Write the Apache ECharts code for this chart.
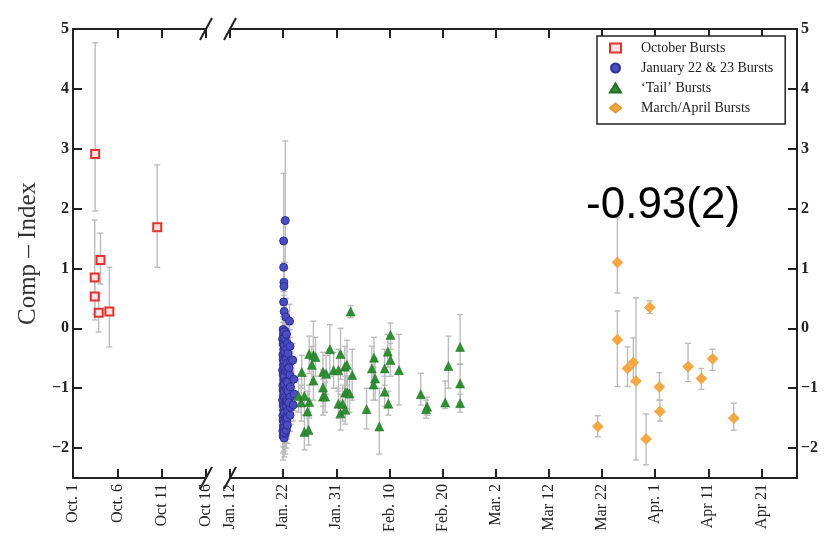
<!DOCTYPE html>
<html><head><meta charset="utf-8">
<script src="https://cdn.jsdelivr.net/npm/echarts@6/dist/echarts.min.js"></script>
<style>html,body{margin:0;padding:0;background:#fff}#c{width:835px;height:546px}</style>
</head><body><div id="c"></div>
<script>
// ---- tick positions / labels ----
// October panel: days after Oct 1 ; Jan–Apr panel: days after Jan 12
const octTickDays = [0, 5, 10, 15];
const octTickLabels = ['Oct. 1', 'Oct. 6', 'Oct 11', 'Oct 16'];
const janTickDays = [0, 10, 20, 30, 40, 50, 60, 70, 80, 90, 100];
const janTickLabels = ['Jan. 12', 'Jan. 22', 'Jan. 31', 'Feb. 10', 'Feb. 20', 'Mar. 2', 'Mar 12', 'Mar 22', 'Apr. 1', 'Apr 11', 'Apr 21'];
const yTicks = [-2, -1, 0, 1, 2, 3, 4, 5];

// ---- data rows: [day, index, errLow, errHigh] ----
const octoberBursts = [
  [2.5, 2.91, 1.96, 4.77],
  [9.5, 1.69, 1.02, 2.73],
  [3.1, 1.14, 0.74, 1.59],
  [2.45, 0.85, 0.14, 1.81],
  [2.45, 0.53, 0.24, 0.82],
  [2.9, 0.26, -0.06, 0.58],
  [4.1, 0.28, -0.31, 1.02]
];

const janBursts = [
  [10.4, 1.80, 1.10, 3.13], [10.1, 1.46, 0.80, 2.59], [10.1, 1.02, 0.62, 1.45],
  [10.15, 0.77, 0.42, 1.10], [10.15, 0.70, 0.35, 1.05], [10.1, 0.44, 0.15, 0.75],
  [10.2, 0.28, 0.00, 0.55], [10.5, 0.19, -0.10, 0.50], [11.2, 0.12, -0.15, 0.40],
  [10.0, -0.02, -0.30, 0.25], [10.05, -0.10, -0.40, 0.20], [9.9, -0.18, -0.45, 0.10],
  [10.0, -0.26, -0.55, 0.02], [10.1, -0.35, -0.62, -0.05], [9.95, -0.44, -0.75, -0.15],
  [10.0, -0.52, -0.80, -0.22], [10.05, -0.61, -0.92, -0.30], [9.9, -0.70, -1.00, -0.40],
  [10.0, -0.78, -1.08, -0.48], [10.1, -0.86, -1.15, -0.55], [9.95, -0.95, -1.25, -0.62],
  [10.0, -1.03, -1.35, -0.72], [10.05, -1.12, -1.42, -0.80], [9.9, -1.20, -1.50, -0.90],
  [10.0, -1.29, -1.60, -0.98], [10.1, -1.37, -1.70, -1.05], [9.95, -1.46, -1.78, -1.15],
  [10.0, -1.54, -1.88, -1.22], [10.05, -1.63, -1.98, -1.30], [9.95, -1.71, -2.08, -1.38],
  [10.0, -1.80, -2.20, -1.45], [10.2, -1.83, -2.15, -1.50],
  [10.4, -0.05, -0.30, 0.20], [10.45, -0.14, -0.40, 0.12], [10.35, -0.22, -0.48, 0.05],
  [10.4, -0.31, -0.60, -0.02], [10.5, -0.40, -0.70, -0.10], [10.4, -0.48, -0.78, -0.18],
  [10.35, -0.57, -0.85, -0.28], [10.45, -0.66, -0.95, -0.36], [10.4, -0.74, -1.05, -0.44],
  [10.5, -0.83, -1.12, -0.52], [10.4, -0.91, -1.20, -0.62], [10.35, -1.00, -1.30, -0.70],
  [10.45, -1.08, -1.38, -0.78], [10.4, -1.17, -1.48, -0.86], [10.5, -1.25, -1.55, -0.95],
  [10.4, -1.34, -1.62, -1.05], [10.35, -1.42, -1.72, -1.12], [10.45, -1.51, -1.82, -1.20],
  [10.4, -1.59, -1.90, -1.28], [10.3, -1.68, -2.00, -1.35], [10.4, -1.76, -2.10, -1.42],
  [10.2, -0.06, -0.35, 0.22], [10.25, -0.16, -0.42, 0.10], [10.2, -0.29, -0.58, 0.00],
  [10.25, -0.39, -0.66, -0.10], [10.2, -0.55, -0.84, -0.26], [10.25, -0.65, -0.95, -0.35],
  [10.2, -0.81, -1.10, -0.52], [10.25, -0.93, -1.22, -0.63], [10.2, -1.06, -1.36, -0.76],
  [10.25, -1.16, -1.45, -0.86], [10.2, -1.32, -1.62, -1.02], [10.25, -1.41, -1.70, -1.10],
  [10.2, -1.57, -1.88, -1.26], [10.25, -1.66, -1.98, -1.35], [10.2, -1.74, -2.05, -1.45],
  [10.6, -0.10, -0.38, 0.18], [10.65, -0.34, -0.62, -0.06], [10.6, -0.51, -0.80, -0.22],
  [10.65, -0.69, -0.98, -0.40], [10.6, -0.88, -1.16, -0.58], [10.65, -1.02, -1.30, -0.74],
  [10.6, -1.19, -1.48, -0.90], [10.65, -1.30, -1.60, -1.00], [10.6, -1.47, -1.75, -1.18],
  [10.65, -1.56, -1.85, -1.28], [10.6, -1.70, -2.00, -1.40],
  [10.8, -0.25, -0.52, 0.02], [10.9, -0.42, -0.70, -0.15], [10.75, -0.58, -0.85, -0.30],
  [10.85, -0.73, -1.02, -0.45], [10.8, -0.90, -1.18, -0.60], [10.9, -1.05, -1.35, -0.75],
  [10.8, -1.22, -1.50, -0.92], [10.85, -1.38, -1.68, -1.08], [10.75, -1.50, -1.80, -1.20],
  [10.8, -1.62, -1.92, -1.32],
  [11.3, -0.30, -0.58, -0.02], [11.4, -0.55, -0.85, -0.25], [11.25, -0.78, -1.05, -0.50],
  [11.35, -0.98, -1.28, -0.68], [11.3, -1.15, -1.45, -0.85], [11.4, -1.32, -1.60, -1.02],
  [11.3, -1.45, -1.72, -1.15], [11.1, -0.66, -0.95, -0.38], [11.05, -1.24, -1.52, -0.95],
  [11.8, -0.53, -0.80, -0.25], [12.0, -0.85, -1.12, -0.58], [12.1, -1.10, -1.38, -0.82],
  [11.9, -1.28, -1.55, -1.00]
];

const tailBursts = [
  [22.7, 0.28, 0.18, 0.38], [13.5, -0.73, -1.00, -0.45], [14.9, -0.43, -0.75, -0.13],
  [15.7, -0.45, -0.90, 0.12], [16.1, -0.48, -0.80, -0.15], [15.4, -0.61, -0.95, -0.30],
  [15.7, -0.87, -1.20, -0.55], [12.9, -1.13, -1.40, -0.85], [14.0, -1.13, -1.45, -0.80],
  [13.4, -1.24, -1.55, -0.95], [14.6, -1.39, -1.70, -1.05], [14.0, -1.73, -2.03, -1.45],
  [14.8, -1.70, -1.95, -1.40], [14.9, -1.23, -1.50, -0.95], [17.5, -0.73, -1.05, -0.40],
  [18.1, -0.76, -1.10, -0.45], [17.5, -0.99, -1.30, -0.70], [17.5, -1.14, -1.45, -0.85],
  [17.9, -1.14, -1.40, -0.90], [18.8, -0.35, -0.80, 0.06], [19.5, -0.70, -1.00, -0.40],
  [20.4, -0.70, -1.05, -0.35], [20.8, -0.43, -0.85, 0.00], [21.6, -0.64, -1.00, -0.30],
  [22.0, -0.61, -0.95, -0.20], [23.0, -0.78, -1.20, -0.35], [20.4, -1.26, -1.50, -1.00],
  [21.2, -1.26, -1.55, -0.95], [21.7, -1.07, -1.35, -0.80], [22.1, -1.07, -1.35, -0.80],
  [20.8, -1.42, -1.70, -1.10], [21.7, -1.36, -1.60, -1.10], [22.5, -1.09, -1.40, -0.80],
  [25.7, -1.35, -1.68, -1.00], [26.7, -0.67, -1.00, -0.30], [27.1, -0.49, -0.80, -0.15],
  [27.3, -0.84, -1.20, -0.50], [27.0, -0.94, -1.20, -0.65], [29.1, -0.67, -0.95, -0.35],
  [29.1, -1.06, -1.30, -0.80], [29.7, -0.39, -0.65, -0.10], [30.2, -0.11, -0.35, 0.09],
  [30.2, -0.53, -0.80, -0.25], [29.8, -1.26, -1.45, -1.05], [28.1, -1.64, -2.10, -1.00],
  [31.8, -0.70, -1.28, -0.10], [35.9, -1.10, -1.28, -0.75], [37.1, -1.31, -1.45, -1.15],
  [36.9, -1.35, -1.50, -1.20], [40.5, -1.24, -1.34, -0.88], [41.1, -0.63, -1.00, -0.13],
  [43.3, -0.31, -0.60, 0.23], [43.3, -0.92, -1.25, -0.60], [43.3, -1.25, -1.40, -1.10]
];

const marAprBursts = [
  [69.2, -1.64, -1.81, -1.46], [72.9, 1.10, 0.59, 1.85], [72.9, -0.19, -0.97, 0.29],
  [74.8, -0.67, -0.97, -0.31], [75.9, -0.57, -0.90, -0.16], [76.4, -0.88, -2.20, 0.51],
  [78.3, -1.85, -2.28, -1.43], [79.0, 0.35, 0.25, 0.46], [80.8, -0.98, -1.20, -0.74],
  [80.9, -1.39, -1.55, -1.20], [86.2, -0.64, -0.89, -0.25], [88.7, -0.84, -1.02, -0.67],
  [90.8, -0.51, -0.70, -0.35], [94.8, -1.50, -1.70, -1.25]
];

const seriesNames = ['October Bursts', 'January 22 & 23 Bursts', '\u2018Tail\u2019 Bursts', 'March/April Bursts'];
const annotationText = '-0.93(2)';

// ---- chart ----
const serif = 'Liberation Serif';
const axisColor = '#222';
const tickTextColor = '#222';
const chart = echarts.init(document.getElementById('c'), null, {renderer: 'canvas'});

function labelFrom(ticks, labels) {
  return v => { const i = ticks.findIndex(t => Math.abs(t - v) < 1e-6); return i >= 0 ? labels[i] : ''; };
}
const yFmt = v => (v < 0 ? '\u2212' + Math.abs(v) : String(v));

function xAxisCfg(grid, pos, min, max, ticks, labels, showLabels) {
  return {
    type: 'value', gridIndex: grid, position: pos, min: min, max: max,
    axisLine: {show: true, onZero: false, lineStyle: {color: axisColor, width: 2}},
    axisTick: {show: true, inside: true, length: 9, customValues: ticks, lineStyle: {color: axisColor, width: 2}},
    axisLabel: {show: showLabels, customValues: ticks, formatter: labelFrom(ticks, labels), rotate: 90, margin: 6,
      fontFamily: serif, fontSize: 16, color: tickTextColor},
    splitLine: {show: false}
  };
}
function yAxisCfg(grid, pos) {
  return {
    type: 'value', gridIndex: grid, position: pos, min: -2.5, max: 5,
    axisLine: {show: true, onZero: false, lineStyle: {color: axisColor, width: 2}},
    axisTick: {show: true, inside: true, length: 9, customValues: yTicks, lineStyle: {color: axisColor, width: 2}},
    axisLabel: {customValues: yTicks, formatter: yFmt, margin: 4, fontFamily: serif, fontSize: 16,
      fontWeight: 'bold', color: tickTextColor},
    splitLine: {show: false}
  };
}

const errColor = '#bcbcbc';
function errRender(params, api) {
  const x = api.value(0), lo = api.value(2), hi = api.value(3);
  const a = api.coord([x, lo]), b = api.coord([x, hi]);
  const w = 3, st = {stroke: errColor, lineWidth: 1.4};
  return {type: 'group', children: [
    {type: 'line', shape: {x1: a[0], y1: a[1], x2: b[0], y2: b[1]}, style: st},
    {type: 'line', shape: {x1: a[0] - w, y1: a[1], x2: a[0] + w, y2: a[1]}, style: st},
    {type: 'line', shape: {x1: b[0] - w, y1: b[1], x2: b[0] + w, y2: b[1]}, style: st}
  ]};
}
function errSeries(data, xi, yi) {
  return {type: 'custom', xAxisIndex: xi, yAxisIndex: yi, data: data, renderItem: errRender,
    encode: {x: 0, y: [2, 3]}, z: 1, silent: true, clip: true};
}

const yAxisName = {name: 'Comp \u2013 Index', nameLocation: 'middle', nameGap: 32, nameRotate: 90,
  nameTextStyle: {fontFamily: serif, fontSize: 25, color: '#333'}};

chart.setOption({
  animation: false,
  backgroundColor: '#fff',
  grid: [
    {left: 73, top: 29, width: 133, height: 449},
    {left: 230, top: 29, width: 567, height: 449}
  ],
  xAxis: [
    xAxisCfg(0, 'bottom', 0, 15, octTickDays, octTickLabels, true),
    xAxisCfg(0, 'top', 0, 15, octTickDays, octTickLabels, false),
    xAxisCfg(1, 'bottom', 0, 106.7, janTickDays, janTickLabels, true),
    xAxisCfg(1, 'top', 0, 106.7, janTickDays, janTickLabels, false)
  ],
  yAxis: [
    Object.assign(yAxisCfg(0, 'left'), yAxisName),
    yAxisCfg(1, 'right')
  ],
  legend: {
    orient: 'vertical', left: 597, top: 36, padding: [5, 12, 9, 12], itemGap: 6,
    itemWidth: 11, itemHeight: 9, borderColor: '#222', borderWidth: 1.5, backgroundColor: '#fff',
    textStyle: {fontFamily: serif, fontSize: 14, color: '#222', padding: [0, 0, 0, 15]},
    data: seriesNames
  },
  series: [
    errSeries(octoberBursts, 0, 0),
    errSeries(janBursts, 2, 1),
    errSeries(tailBursts, 2, 1),
    errSeries(marAprBursts, 2, 1),
    {name: seriesNames[0], type: 'scatter', xAxisIndex: 0, yAxisIndex: 0, data: octoberBursts, encode: {x: 0, y: 1},
      symbol: 'rect', symbolSize: 8, z: 3,
      itemStyle: {color: '#fbe3e3', borderColor: '#e2312f', borderWidth: 2, opacity: 1}},
    {name: seriesNames[1], type: 'scatter', xAxisIndex: 2, yAxisIndex: 1, data: janBursts, encode: {x: 0, y: 1},
      symbol: 'circle', symbolSize: 8, z: 3,
      itemStyle: {color: '#4a4cc0', borderColor: '#2d2f95', borderWidth: 1, opacity: 1}},
    {name: seriesNames[2], type: 'scatter', xAxisIndex: 2, yAxisIndex: 1, data: tailBursts, encode: {x: 0, y: 1},
      symbol: 'triangle', symbolSize: 9, z: 3,
      itemStyle: {color: '#2e8f32', borderColor: '#1f6f22', borderWidth: 0.5, opacity: 1}},
    {name: seriesNames[3], type: 'scatter', xAxisIndex: 2, yAxisIndex: 1, data: marAprBursts, encode: {x: 0, y: 1},
      symbol: 'diamond', symbolSize: 11, z: 3,
      itemStyle: {color: '#f3a844', borderColor: '#e8952c', borderWidth: 0.5, opacity: 1}}
  ]
});

// axis-break slashes and annotation, placed through the axes' own scales
const pTopL = chart.convertToPixel({xAxisIndex: 0, yAxisIndex: 0}, [15, 5]);
const pBotL = chart.convertToPixel({xAxisIndex: 0, yAxisIndex: 0}, [15, -2.5]);
const pTopR = chart.convertToPixel({xAxisIndex: 2, yAxisIndex: 1}, [0, 5]);
const pBotR = chart.convertToPixel({xAxisIndex: 2, yAxisIndex: 1}, [0, -2.5]);
function slash(p) {
  return {type: 'line', shape: {x1: p[0] - 6, y1: p[1] + 11, x2: p[0] + 6, y2: p[1] - 11},
    style: {stroke: axisColor, lineWidth: 2}, z: 10};
}
const pAnn = chart.convertToPixel({xAxisIndex: 2, yAxisIndex: 1}, [67.0, 2.05]);
chart.setOption({
  graphic: [
    slash(pTopL), slash(pBotL), slash(pTopR), slash(pBotR),
    {type: 'text', x: pAnn[0], y: pAnn[1], z: 20,
      style: {text: annotationText, fontFamily: 'Liberation Sans', fontSize: 44, fill: '#000',
        align: 'left', verticalAlign: 'middle'}}
  ]
});
</script>
</body></html>
